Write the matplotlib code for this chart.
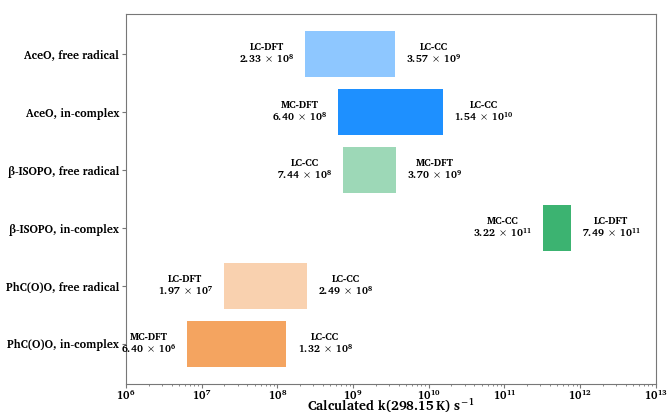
import numpy as np
import matplotlib
matplotlib.use('Agg')
import matplotlib.pyplot as plt

plt.rcParams['font.family'] = ['Charis SIL', 'DejaVu Serif']
plt.rcParams['font.weight'] = 'bold'
plt.rcParams['mathtext.fontset'] = 'custom'
plt.rcParams['mathtext.rm'] = 'Charis SIL'
plt.rcParams['mathtext.bf'] = 'Charis SIL:bold'
plt.rcParams['mathtext.default'] = 'bf'

# data
species = ['AceO, free radical', 'AceO, in-complex',
           'β-ISOPO, free radical', 'β-ISOPO, in-complex',
           'PhC(O)O, free radical', 'PhC(O)O, in-complex']
k_low = [2.33e8, 6.40e8, 7.44e8, 3.22e11, 1.97e7, 6.40e6]
k_high = [3.57e9, 1.54e10, 3.70e9, 7.49e11, 2.49e8, 1.32e8]
low_method = ['LC-DFT', 'MC-DFT', 'LC-CC', 'MC-CC', 'LC-DFT', 'MC-DFT']
high_method = ['LC-CC', 'LC-CC', 'MC-DFT', 'LC-DFT', 'LC-CC', 'LC-CC']
colors = ['dodgerblue', 'dodgerblue', 'mediumseagreen', 'mediumseagreen',
          'sandybrown', 'sandybrown']
alphas = [0.5, 1.0, 0.5, 1.0, 0.5, 1.0]


def sci(v):
    e = int(np.floor(np.log10(v)))
    m = v / 10 ** e
    return '%.2f \u00d7 10$^{%d}$' % (m, e)


fig, ax = plt.subplots(figsize=(6.67, 4.16), dpi=100)
y = np.arange(len(species))

for i in range(len(species)):
    ax.barh(y[i], k_high[i] - k_low[i], left=k_low[i], height=0.8,
            color=colors[i], alpha=alphas[i])
    ax.annotate(low_method[i] + '\n' + sci(k_low[i]), (k_low[i], y[i]),
                xytext=(-8, 0), textcoords='offset points', linespacing=1.0,
                ha='right', va='center', multialignment='center',
                fontsize=7.3, fontweight='bold')
    ax.annotate(high_method[i] + '\n' + sci(k_high[i]), (k_high[i], y[i]),
                xytext=(8, 0), textcoords='offset points', linespacing=1.0,
                ha='left', va='center', multialignment='center',
                fontsize=7.3, fontweight='bold')

ax.set_xscale('log')
ax.set_xlim(1e6, 1e13)
ax.set_yticks(y)
ax.set_yticklabels(species, fontsize=8, fontweight='bold')
ax.invert_yaxis()
ax.tick_params(axis='x', which='major', labelsize=8, pad=1, length=3, color='#777777')
ax.tick_params(axis='x', which='minor', length=1.5, color='#777777')
ax.tick_params(axis='y', length=3, pad=2, color='#777777')
for lbl in ax.get_xticklabels():
    lbl.set_fontweight('bold')
ax.set_xlabel(r'Calculated k(298.15$\,$K) s$^{-1}$', fontsize=9.5, fontweight='bold')
ax.xaxis.set_label_coords(0.5, -0.037)
for s in ax.spines.values():
    s.set_color('#777777')

plt.subplots_adjust(left=0.189, right=0.983, top=0.966, bottom=0.077)
plt.savefig('out.png', dpi=100)
